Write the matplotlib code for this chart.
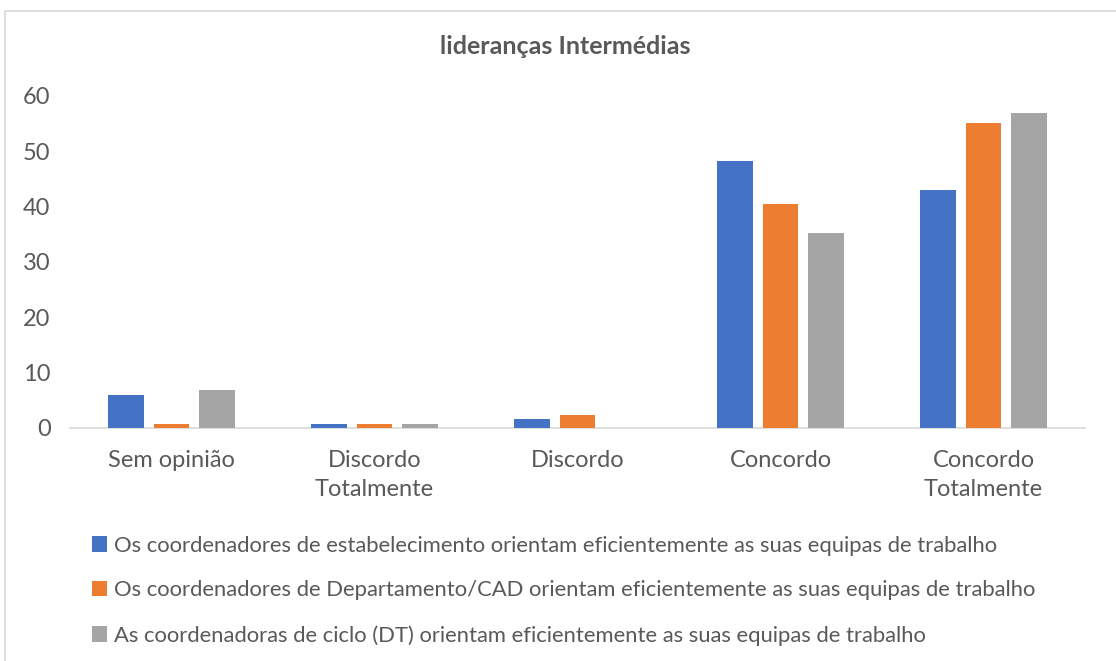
import matplotlib
matplotlib.use("Agg")
import matplotlib.pyplot as plt
import numpy as np
from matplotlib.patches import Rectangle

categories = ["Sem opinião", "Discordo\nTotalmente", "Discordo", "Concordo", "Concordo\nTotalmente"]
series_names = [
    "Os coordenadores de estabelecimento orientam eficientemente as suas equipas de trabalho",
    "Os coordenadores de Departamento/CAD orientam eficientemente as suas equipas de trabalho",
    "As coordenadoras de ciclo (DT) orientam eficientemente as suas equipas de trabalho",
]
estabelecimento = [6.0, 0.8, 1.6, 48.2, 43.0]
departamento = [0.8, 0.8, 2.4, 40.4, 55.2]
ciclo = [6.8, 0.8, 0.0, 35.2, 56.9]
colors = ["#4472C4", "#ED7D31", "#A5A5A5"]
title = "lideranças Intermédias"
yticks = [0, 10, 20, 30, 40, 50, 60]

plt.rcParams['font.family'] = ['Lato', 'DejaVu Sans']
txt = "#595959"

fig = plt.figure(figsize=(11.16, 6.61), dpi=100)
W, H = 1116, 661
ax = fig.add_axes([70 / W, (H - 428) / H, (1085 - 70) / W, (428 - 96) / H])

x = np.arange(len(categories))
bw = 0.176
step = 0.223
for i, (vals, c, name) in enumerate(zip([estabelecimento, departamento, ciclo], colors, series_names)):
    ax.bar(x + (i - 1) * step, vals, width=bw, color=c, label=name, zorder=3)

ax.set_xlim(-0.5, len(categories) - 0.5)
ax.set_ylim(0, 60)
ax.set_yticks(yticks)
ax.set_xticks(x)
ax.set_xticklabels(categories, fontsize=17, color=txt, linespacing=1.45)
ax.tick_params(axis='y', labelsize=17, labelcolor=txt, length=0, pad=14)
ax.tick_params(axis='x', length=0, pad=16)
for s in ["top", "right", "left"]:
    ax.spines[s].set_visible(False)
ax.spines["bottom"].set_color("#D9D9D9")
ax.spines["bottom"].set_linewidth(1.2)

fig.text(565 / W, 1 - 47 / H, title, ha="center", va="center", fontsize=18,
         fontweight="bold", color=txt)

leg = fig.legend(loc="upper left", bbox_to_anchor=(83 / W, 1 - 527 / H), frameon=False,
                 fontsize=15.85, labelcolor=txt, handlelength=0.7, handleheight=0.7,
                 handletextpad=0.3, labelspacing=1.12, borderaxespad=0)

# chart area border (partially cropped)
fig.patches.append(Rectangle((5 / W, -0.1), 1.2, 1 - 11 / H + 0.1, transform=fig.transFigure,
                             fill=False, edgecolor="#D9D9D9", linewidth=1.2))

fig.savefig("out.png", dpi=100)
